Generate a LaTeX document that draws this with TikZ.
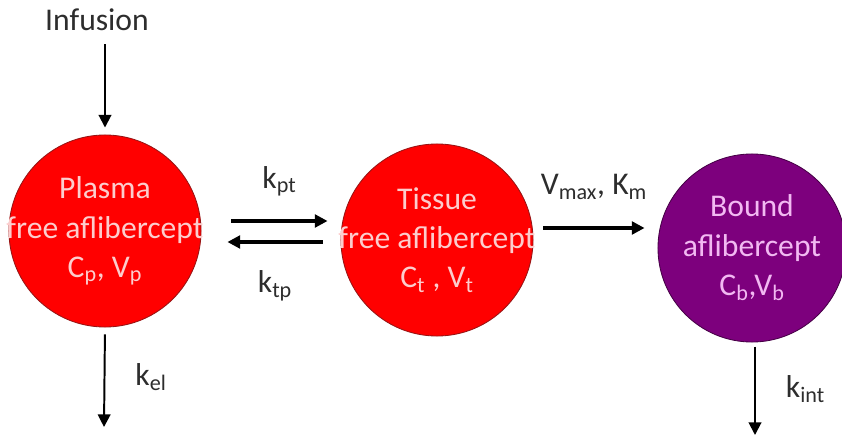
\documentclass[tikz,border=0pt]{standalone}
\usepackage{fontspec}
\setmainfont{Carlito}
\usetikzlibrary{arrows.meta, calc}

\definecolor{freered}{RGB}{255,0,0}
\definecolor{freeedge}{RGB}{150,20,20}
\definecolor{boundpurple}{RGB}{125,0,125}
\definecolor{boundedge}{RGB}{70,0,70}
\definecolor{redtext}{RGB}{252,205,205}
\definecolor{purpletext}{RGB}{242,185,242}
\definecolor{labeltext}{RGB}{45,45,45}

\tikzset{
  comp/.style={circle, inner sep=-40pt, line width=0.6pt, align=center,
    font=\fontsize{22.5}{28}\selectfont},
  lbl/.style={text=labeltext, font=\fontsize{22.5}{26}\selectfont},
  flow/.style={->, line width=1.4pt},
  swap/.style={->, line width=2.2pt}
}

\begin{document}
\begin{tikzpicture}[x=0.025cm, y=-0.025cm, >={Triangle[length=9pt, width=9pt]}]
  \useasboundingbox (0,0) rectangle (842,439);

  % Kompartimente
  \node[comp, minimum size=4.8cm, fill=freered, draw=freeedge, text=redtext] (plasma) at (105,231)
    {Plasma\\free aflibercept\\C\textsubscript{p}, V\textsubscript{p}};
  \node[comp, minimum size=4.8cm, fill=freered, draw=freeedge, text=redtext] (tissue) at (437,240)
    {Tissue\\free aflibercept\\C\textsubscript{t} , V\textsubscript{t}};
  \node[comp, minimum size=4.7cm, fill=boundpurple, draw=boundedge, text=purpletext] (bound) at (752,248)
    {Bound\\aflibercept\\C\textsubscript{b},V\textsubscript{b}};

  % Zufuhr
  \node[lbl] (infusion) at (97,20) {Infusion};
  \draw[flow, shorten <=6pt, shorten >=5pt] (plasma.north |- infusion.south) -- (plasma.north);

  % Austausch Plasma <-> Gewebe
  \draw[swap] ($(plasma.east)+(30,-10)$) -- ($(tissue.west)+(-13,-19)$)
    node[lbl, midway, above=13pt] (kpt) {k\textsubscript{pt}};
  \draw[swap] ($(tissue.west)+(-18,2)$) -- ($(plasma.east)+(26,11)$)
    node[lbl, midway, below=16pt] (ktp) {k\textsubscript{tp}};

  % Bindung
  \draw[swap] ($(tissue.east)+(10,-12)$) -- ($(bound.west)+(-13,-20)$)
    node[lbl, midway, above=16pt] (vmax) {V\textsubscript{max}, K\textsubscript{m}};

  % Elimination
  \coordinate (elim) at (104,427);
  \coordinate (intern) at (755,435);
  \draw[flow, shorten <=5pt] (plasma.south) -- (elim)
    node[lbl, midway, right=18pt] (kel) {k\textsubscript{el}};
  \draw[flow, shorten <=3pt] (bound.south -| intern) -- (intern)
    node[lbl, midway, right=18pt] (kint) {k\textsubscript{int}};
\end{tikzpicture}
\end{document}
